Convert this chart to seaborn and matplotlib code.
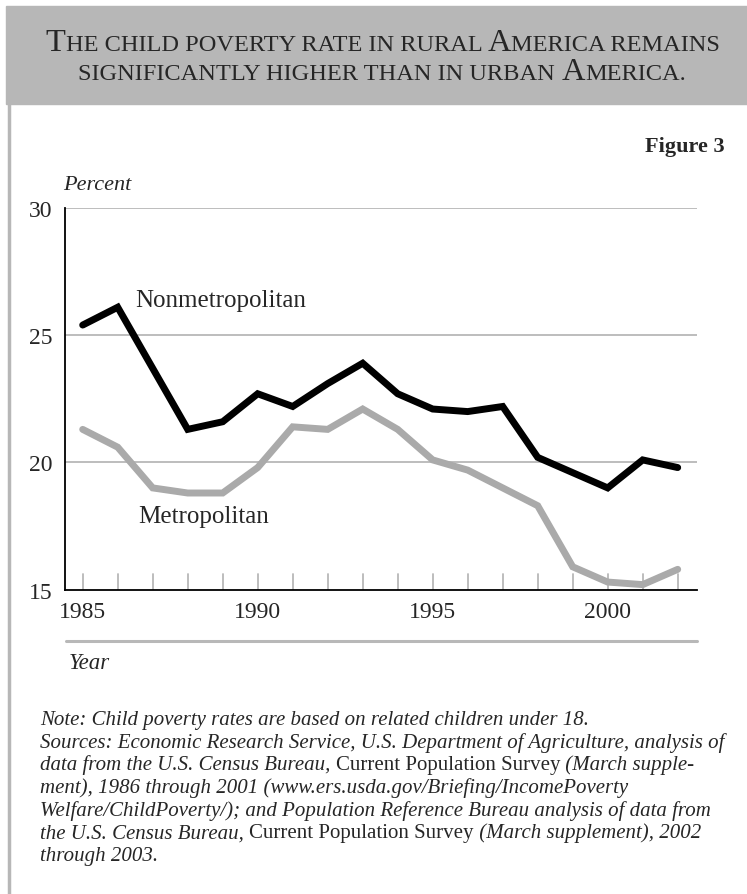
import numpy as np
import pandas as pd
import matplotlib
matplotlib.use("Agg")
import matplotlib.pyplot as plt
import seaborn as sns

years = list(range(1985, 2003))
nonmetro = [25.4, 26.1, 23.7, 21.3, 21.6, 22.7, 22.2, 23.1, 23.9, 22.7, 22.1, 22.0, 22.2, 20.2, 19.6, 19.0, 20.1, 19.8]
metro = [21.3, 20.6, 19.0, 18.8, 18.8, 19.8, 21.4, 21.3, 22.1, 21.3, 20.1, 19.7, 19.0, 18.3, 15.9, 15.3, 15.2, 15.8]
yticks = [15, 20, 25, 30]
xticks = [1985, 1990, 1995, 2000]

sns.set_style("white")
plt.rcParams['font.family'] = ['Liberation Serif', 'DejaVu Serif']

W, H = 747, 895
fig = plt.figure(figsize=(W / 100, H / 100), dpi=100)
GRAY = "#aaaaaa"
GRID = "#b8b8b8"

def fx(px):
    return px / W

def fy(py):
    return 1 - py / H

# title band
fig.patches.append(matplotlib.patches.Rectangle((fx(6), fy(105)), 1 - fx(6), fy(7) - fy(105),
                                                transform=fig.transFigure, color="#b7b7b7", zorder=0))
# left border line
fig.lines.append(matplotlib.lines.Line2D([fx(8.5), fx(8.5)], [fy(105), 0], transform=fig.transFigure,
                                         color="#b7b7b7", lw=2.5))

df = pd.DataFrame({"Year": years * 2,
                   "Rate": nonmetro + metro,
                   "Area": ["Nonmetropolitan"] * len(years) + ["Metropolitan"] * len(years)})

ax = fig.add_axes([fx(65), fy(590.7), fx(697) - fx(65), fy(209) - fy(590.7)])
sns.lineplot(data=df, x="Year", y="Rate", hue="Area", palette={"Nonmetropolitan": "black", "Metropolitan": GRAY},
             hue_order=["Metropolitan", "Nonmetropolitan"], lw=5, ax=ax, legend=False,
             solid_joinstyle="miter", solid_capstyle="round")
ax.set_ylim(15, 30)
ax.set_xlim(1985 - 17.7 / 35, 1985 + (697 - 82.7) / 35)
ax.set_yticks(yticks)
ax.set_xticks(xticks)
ax.set_xlabel("")
ax.set_ylabel("")
for y in [20, 25, 30]:
    ax.axhline(y, color=GRID, lw=1.3, zorder=0)
for x in years:
    ax.plot([x, x], [15, 15.62], color=GRID, lw=1.3, zorder=0)
for s in ["top", "right"]:
    ax.spines[s].set_visible(False)
for s in ["left", "bottom"]:
    ax.spines[s].set_color("black")
    ax.spines[s].set_linewidth(1.3)
ax.tick_params(axis="both", which="both", length=0, labelsize=17)
ax.tick_params(axis="y", pad=9)
ax.tick_params(axis="x", pad=8)

ax.text(1986.5, 26.4, "Nonmetropolitan", fontsize=18, va="center", ha="left")
ax.text(1986.58, 17.91, "Metropolitan", fontsize=18, va="center", ha="left")

fig.text(fx(63), fy(186), "Percent", fontsize=16, style="italic", va="center", ha="left")
fig.text(fx(69), fy(669), "Year", fontsize=16.5, style="italic", va="baseline", ha="left")
fig.text(fx(725), fy(147), "Figure 3", fontsize=16, weight="bold", va="center", ha="right")
fig.lines.append(matplotlib.lines.Line2D([fx(66), fx(697)], [fy(642), fy(642)], transform=fig.transFigure,
                                         color=GRID, lw=2.2))

renderer = fig.canvas.get_renderer()

def place_runs(runs, y_px, x_px=None, center_px=None):
    texts = []
    widths = []
    for txt, props in runs:
        t = fig.text(0, fy(y_px), txt, va="baseline", ha="left", **props)
        texts.append(t)
        widths.append(t.get_window_extent(renderer).width)
    total = sum(widths)
    start = center_px - total / 2 if center_px is not None else x_px
    x = start
    for t, w in zip(texts, widths):
        t.set_x(fx(x))
        x += w

BIG = dict(fontsize=23.4)
SMALL = dict(fontsize=17.6)
place_runs([("T", BIG), ("HE CHILD POVERTY RATE IN RURAL ", SMALL), ("A", BIG), ("MERICA REMAINS", SMALL)],
           51, center_px=383)
place_runs([("SIGNIFICANTLY HIGHER THAN IN URBAN ", SMALL), ("A", BIG), ("MERICA.", SMALL)],
           80, center_px=382)

IT = dict(fontsize=15, style="italic")
RM = dict(fontsize=15)
note_lines = [
    [("Note: Child poverty rates are based on related children under 18.", IT)],
    [("Sources: Economic Research Service, U.S. Department of Agriculture, analysis of", IT)],
    [("data from the U.S. Census Bureau, ", IT), ("Current Population Survey", RM), (" (March supple-", IT)],
    [("ment), 1986 through 2001 (www.ers.usda.gov/Briefing/IncomePoverty", IT)],
    [("Welfare/ChildPoverty/); and Population Reference Bureau analysis of data from", IT)],
    [("the U.S. Census Bureau, ", IT), ("Current Population Survey", RM), (" (March supplement), 2002", IT)],
    [("through 2003.", IT)],
]
for i, runs in enumerate(note_lines):
    place_runs(runs, 725 + i * 22.7, x_px=40)

fig.savefig("out.png", dpi=100)
